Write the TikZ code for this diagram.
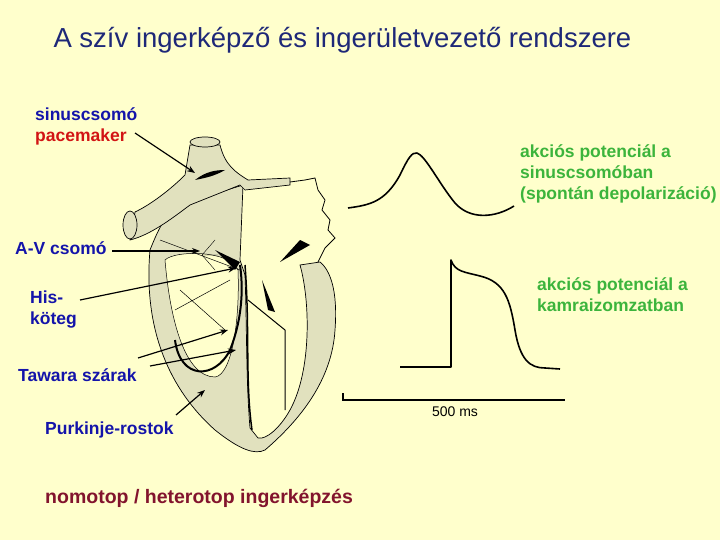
\documentclass[tikz,border=0pt]{standalone}
\usepackage{fontspec}
\setmainfont{Liberation Sans}
\usetikzlibrary{arrows.meta}
\definecolor{bg}{RGB}{255,255,204}
\definecolor{lblue}{RGB}{20,20,170}
\definecolor{lred}{RGB}{210,20,20}
\definecolor{lgreen}{RGB}{60,180,60}
\definecolor{ldred}{RGB}{130,20,45}
\definecolor{ttl}{RGB}{30,40,120}
\definecolor{tissue}{RGB}{225,225,190}
\begin{document}
\begin{tikzpicture}[x=1pt,y=-1pt,
  lbl/.style={font=\bfseries\fontsize{17.5}{21}\selectfont,align=left,inner sep=0pt,anchor=north west},
  arr/.style={-{Stealth[length=8pt,width=6pt]},line width=1.2pt},
  wall/.style={draw=black,line width=0.7pt,fill=tissue},
  trace/.style={line width=1.6pt,line join=round}]
\fill[bg] (0,0) rectangle (720,540);
\useasboundingbox (0,0) rectangle (720,540);
\node[anchor=west,text=ttl,font=\fontsize{27.5}{30}\selectfont] (title) at (50,40) {A szív ingerképző és ingerületvezető rendszere};
% heart sketch
\path[wall] (150,250) .. controls (143,330) and (170,390) .. (215,430) .. controls (240,450) and (255,455) .. (265,450) .. controls (300,420) and (332,380) .. (335,330) .. controls (338,290) and (330,270) .. (320,262) -- (300,265) .. controls (310,300) and (312,370) .. (290,410) .. controls (280,428) and (266,440) .. (258,438) -- (250,428) .. controls (246,380) and (247,330) .. (245,275) -- (240,260) -- (243,185) -- (178,205) .. controls (165,215) and (158,230) .. (150,250) -- cycle;
\path[fill=bg,draw=black,line width=0.5pt] (165,260) .. controls (175,250) and (230,250) .. (238,270) .. controls (240,320) and (232,375) .. (215,377) .. controls (185,377) and (170,320) .. (165,260) -- cycle;
\path[wall] (190,145) -- (185,175) .. controls (170,190) and (150,205) .. (135,212) -- (130,240) .. controls (150,235) and (170,220) .. (190,205) -- (240,185) -- (245,190) -- (290,185) -- (290,178) -- (248,180) .. controls (235,172) and (225,165) .. (220,145) -- cycle;
\draw[line width=0.7pt,fill=tissue] (205,142) ellipse (15 and 5);
\draw[line width=0.7pt,fill=tissue] (130,225) ellipse (7 and 14);
\draw[line width=0.8pt] (290,182) -- (305,180) -- (315,178) -- (318,190) -- (325,200) -- (322,210) -- (330,220) -- (328,230) -- (335,238) -- (325,248) -- (318,262);
\fill (195,180) .. controls (205,172) and (215,170) .. (225,170) .. controls (215,176) and (205,178) .. (195,180) -- cycle;
\fill (215,250) -- (240,262) -- (235,270) -- cycle;
\draw[line width=0.4pt] (202,255) -- (215,240) (202,255) -- (215,270) (202,255) -- (218,255);
\draw[line width=2pt] (240,265) .. controls (245,300) and (238,330) .. (230,350) .. controls (215,380) and (180,380) .. (175,340);
\draw[line width=1.5pt] (245,265) .. controls (250,330) and (245,380) .. (252,430);
\draw[line width=1pt] (248,300) -- (285,330) -- (285,410);
\draw[line width=0.5pt] (175,310) -- (230,280) (180,290) -- (225,330) (160,240) -- (240,270);
\fill (262,280) -- (275,312) -- (268,310) -- cycle;
\fill (300,240) -- (280,262) -- (310,245) -- cycle;
% labels
\node[lbl,text=lblue] (sinus) at (35,107) {sinuscsomó};
\node[lbl,text=lred] (pace) at (35,129) {pacemaker};
\node[lbl,text=lblue] (av) at (15,241) {A-V csomó};
\node[lbl,text=lblue] (his) at (30,291) {His-\\köteg};
\node[lbl,text=lblue] (taw) at (18,368) {Tawara szárak};
\node[lbl,text=lblue] (purk) at (45,422) {Purkinje-rostok};
\node[lbl,text=ldred,font=\bfseries\fontsize{19.5}{22}\selectfont] (nomo) at (45,489) {nomotop / heterotop ingerképzés};
\node[lbl,text=lgreen] (ap1) at (520,144) {akciós potenciál a\\sinuscsomóban\\(spontán depolarizáció)};
\node[lbl,text=lgreen] (ap2) at (537,277) {akciós potenciál a\\kamraizomzatban};
% arrows
\coordinate (t1) at (195,173); \coordinate (t2) at (200,251); \coordinate (t3) at (236,268);
\coordinate (t4) at (228,330); \coordinate (t5) at (236,350); \coordinate (t6) at (205,390);
\draw[arr] (135,133) -- (t1);
\draw[arr] (112,251) -- (t2);
\draw[arr] (80,300) -- (t3);
\draw[arr] (138,358) -- (t4);
\draw[arr] (150,366) -- (t5);
\draw[arr] (176,415) -- (t6);
% traces
\draw[trace] (348,208) .. controls (370,205) and (385,202) .. (400,175) .. controls (408,158) and (412,152) .. (417,153) .. controls (425,155) and (440,185) .. (455,203) .. controls (470,220) and (495,218) .. (514,206);
\draw[trace] (400,367) -- (451,367) -- (451,260) .. controls (455,272) and (465,272) .. (480,276) .. controls (505,282) and (510,300) .. (515,330) .. controls (520,360) and (530,368) .. (545,368) -- (560,369);
\draw[line width=1.6pt] (343,393) -- (343,400) -- (565,400);
\node[font=\fontsize{14}{16}\selectfont] (ms) at (455,412) {500 ms};
\end{tikzpicture}
\end{document}
